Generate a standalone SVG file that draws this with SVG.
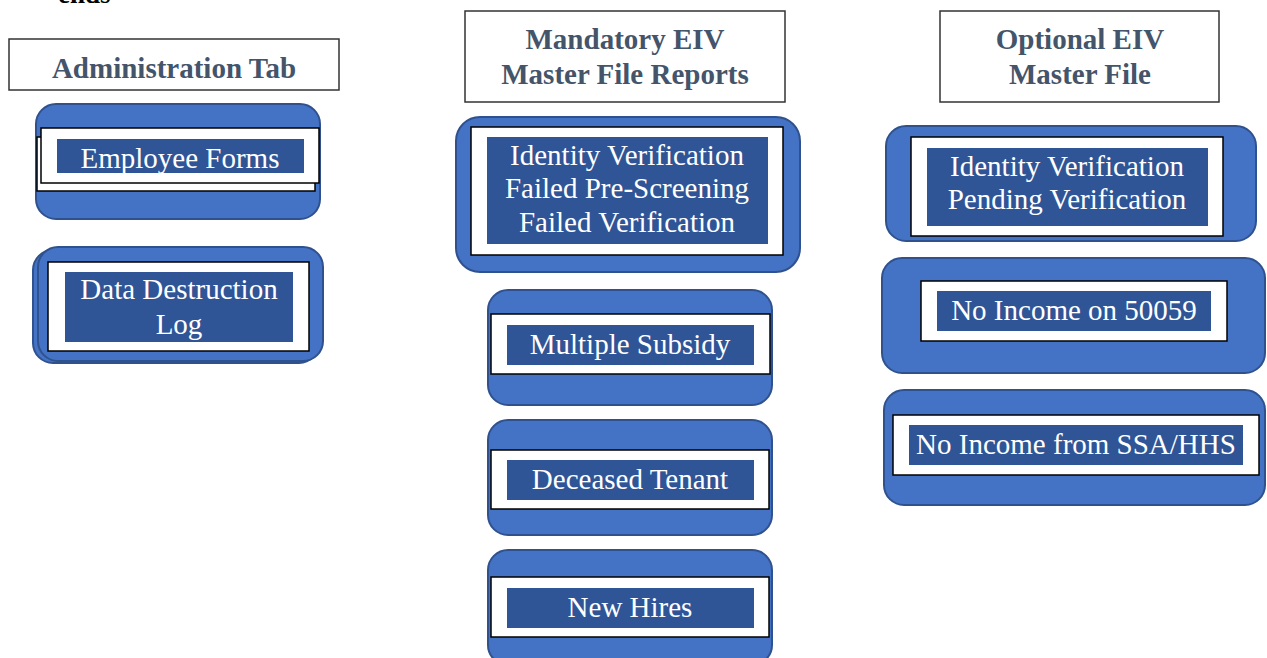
<svg xmlns="http://www.w3.org/2000/svg" width="1267" height="658" viewBox="0 0 1267 658">
<style>
.hdr{fill:#fff;stroke:#333;stroke-width:1.5}
.ht{font-family:"Liberation Serif",serif;font-weight:bold;font-size:29px;fill:#44546A;text-anchor:middle}
.outer{fill:#4472C4;stroke:#2F528F;stroke-width:2}
.white{fill:#fff;stroke:#000;stroke-width:1.5}
.dark{fill:#2F5597}
.lt{font-family:"Liberation Serif",serif;font-size:29px;fill:#fff;text-anchor:middle}
</style>
<rect width="1267" height="658" fill="#fff"/>
<text x="58" y="3" font-family="Liberation Serif,serif" font-weight="bold" font-size="27" fill="#000">ends</text>

<g id="admin-header">
<rect class="hdr" x="9" y="39" width="330" height="51"/>
<text class="ht" x="174" y="78">Administration Tab</text>
</g>
<g id="employee-forms">
<rect class="outer" x="36" y="104" width="284" height="115" rx="20"/>
<rect class="white" x="37" y="137" width="278" height="54"/>
<rect class="white" x="41" y="128" width="278" height="55"/>
<rect class="dark" x="57" y="139" width="247" height="34"/>
<text class="lt" x="180" y="168">Employee Forms</text>
</g>
<g id="data-destruction-log">
<rect class="outer" x="33" y="250" width="286" height="113" rx="20"/>
<rect class="outer" x="38" y="247" width="285" height="114" rx="20"/>
<rect class="white" x="48" y="262" width="261" height="89"/>
<rect class="dark" x="65" y="272" width="228" height="70"/>
<text class="lt" x="179" y="299">Data Destruction</text>
<text class="lt" x="179" y="334">Log</text>
</g>

<g id="mandatory-header">
<rect class="hdr" x="465" y="11" width="320" height="91"/>
<text class="ht" x="625" y="49">Mandatory EIV</text>
<text class="ht" x="625" y="84">Master File Reports</text>
</g>
<g id="identity-verification-mandatory">
<rect class="outer" x="456" y="117" width="344" height="155" rx="24"/>
<rect class="white" x="471" y="127" width="312" height="128"/>
<rect class="dark" x="487" y="137" width="281" height="107"/>
<text class="lt" x="627" y="165">Identity Verification</text>
<text class="lt" x="627" y="198">Failed Pre-Screening</text>
<text class="lt" x="627" y="232">Failed Verification</text>
</g>
<g id="multiple-subsidy">
<rect class="outer" x="488" y="290" width="284" height="115" rx="20"/>
<rect class="white" x="491" y="314" width="279" height="60"/>
<rect class="dark" x="507" y="325" width="247" height="40"/>
<text class="lt" x="630" y="354">Multiple Subsidy</text>
</g>
<g id="deceased-tenant">
<rect class="outer" x="488" y="420" width="284" height="115" rx="20"/>
<rect class="white" x="491" y="450" width="278" height="59"/>
<rect class="dark" x="507" y="460" width="247" height="40"/>
<text class="lt" x="630" y="489">Deceased Tenant</text>
</g>
<g id="new-hires">
<rect class="outer" x="488" y="550" width="284" height="115" rx="20"/>
<rect class="white" x="491" y="577" width="278" height="60"/>
<rect class="dark" x="507" y="588" width="247" height="40"/>
<text class="lt" x="630" y="617">New Hires</text>
</g>

<g id="optional-header">
<rect class="hdr" x="940" y="11" width="279" height="91"/>
<text class="ht" x="1080" y="49">Optional EIV</text>
<text class="ht" x="1080" y="84">Master File</text>
</g>
<g id="identity-verification-optional">
<rect class="outer" x="886" y="126" width="370" height="115" rx="20"/>
<rect class="white" x="911" y="137" width="312" height="99"/>
<rect class="dark" x="927" y="148" width="281" height="78"/>
<text class="lt" x="1067" y="176">Identity Verification</text>
<text class="lt" x="1067" y="209">Pending Verification</text>
</g>
<g id="no-income-50059">
<rect class="outer" x="882" y="258" width="383" height="115" rx="20"/>
<rect class="white" x="921" y="281" width="306" height="60"/>
<rect class="dark" x="937" y="291" width="274" height="40"/>
<text class="lt" x="1074" y="320">No Income on 50059</text>
</g>
<g id="no-income-ssa-hhs">
<rect class="outer" x="884" y="390" width="381" height="115" rx="20"/>
<rect class="white" x="893" y="415" width="366" height="60"/>
<rect class="dark" x="909" y="425" width="334" height="40"/>
<text class="lt" x="1076" y="454">No Income from SSA/HHS</text>
</g>
</svg>
